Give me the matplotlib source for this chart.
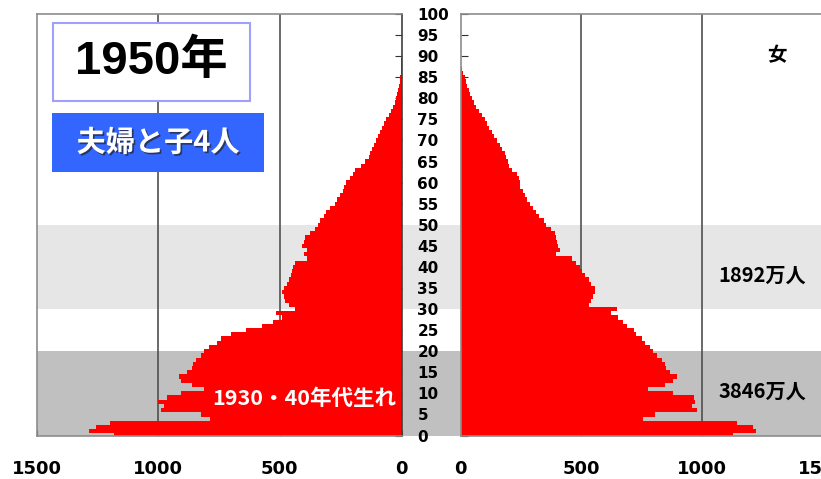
import numpy as np
import matplotlib
matplotlib.use('Agg')
import matplotlib.pyplot as plt
import matplotlib.patheffects as pe
from matplotlib.patches import Rectangle

# population by single year of age, 1950 (thousands)
ages = np.arange(90)
male = [1180, 1285, 1255, 1196, 785, 826, 990, 975, 1000, 965,
        905, 810, 860, 905, 915, 880, 862, 858, 845, 825,
        810, 790, 760, 740, 700, 640, 575, 528, 490, 514,
        438, 462, 477, 484, 490, 484, 470, 463, 456, 450,
        445, 436, 388, 401, 388, 408, 401, 395, 374, 355,
        345, 333, 318, 310, 292, 275, 264, 251, 240, 235,
        228, 212, 200, 190, 168, 150, 135, 128, 120, 112,
        105, 97, 88, 80, 72, 64, 53, 42, 35, 28,
        23, 18, 14, 11, 8, 6, 4, 2, 1, 1]
female = [1130, 1225, 1210, 1145, 756, 805, 978, 960, 971, 965,
          881, 778, 846, 881, 895, 867, 850, 846, 835, 815,
          795, 785, 765, 750, 725, 720, 690, 672, 652, 625,
          648, 530, 540, 550, 556, 555, 540, 532, 515, 505,
          495, 478, 460, 395, 410, 402, 400, 395, 390, 375,
          355, 345, 325, 312, 300, 287, 276, 268, 260, 248,
          245, 242, 232, 212, 201, 195, 190, 183, 172, 162,
          150, 140, 130, 120, 110, 100, 90, 78, 66, 55,
          46, 40, 34, 28, 23, 17, 12, 7, 4, 2]

xticks = [0, 500, 1000, 1500]
age_ticks = np.arange(0, 101, 5)
band_dark = (0, 20)
band_light = (30, 50)

title = '1950年'
subtitle = '夫婦と子4人'
label_f = '女'
label_light = '1892万人'
label_dark = '3846万人'
label_cohort = '1930・40年代生れ'

plt.rcParams['font.family'] = ['DejaVu Sans', 'Noto Sans CJK JP']
cjk = ['Noto Sans CJK JP', 'DejaVu Sans']

W, H = 821, 479
fig = plt.figure(figsize=(W / 100, H / 100), dpi=100)

def fx(px):
    return px / W

def fy(py):
    return 1 - py / H

y_top, y_bot = 14, 435.5
ah = (y_bot - y_top) / H

# shaded age bands across the whole width
bg = fig.add_axes([fx(36.5), fy(y_bot), fx(W - 36.5), ah])
bg.set_xlim(0, 1)
bg.set_ylim(0, 100)
bg.axis('off')
bg.axhspan(*band_dark, color='#c0c0c0', lw=0)
bg.axhspan(*band_light, color='#e6e6e6', lw=0)
bg.set_zorder(0)

ax_l = fig.add_axes([fx(36.5), fy(y_bot), fx(401.5 - 36.5), ah])
ax_r = fig.add_axes([fx(460.5), fy(y_bot), fx(362.3), ah])

for ax in (ax_l, ax_r):
    ax.set_facecolor('none')
    ax.set_zorder(1)
    ax.set_ylim(0, 100)
    for v in (500, 1000):
        ax.axvline(v, color='#505050', lw=1.2, zorder=1)
    for s in ax.spines.values():
        s.set_color('#8c8c8c')
        s.set_linewidth(1.2)
    ax.set_xticks(xticks)
    ax.set_yticks(age_ticks)
    ax.tick_params(axis='x', direction='in', length=4, pad=18, color='#404040',
                   labelsize=13)
    ax.tick_params(axis='y', direction='in', length=5, color='#303030')
    for t in ax.get_xticklabels():
        t.set_fontweight('bold')

ax_l.barh(ages, male, height=1.0, color='#ff0000', lw=0, zorder=2)
ax_l.set_xlim(1500, 0)
ax_l.yaxis.tick_right()
ax_l.tick_params(axis='y', labelright=False)
ax_l.spines['right'].set_color('#404040')

ax_r.barh(ages, female, height=1.0, color='#ff0000', lw=0, zorder=2)
ax_r.set_xlim(0, 1500)
ax_r.tick_params(axis='y', pad=31, labelsize=11)
for t in ax_r.get_yticklabels():
    t.set_fontweight('bold')
    t.set_horizontalalignment('left')

# title boxes
fig.add_artist(Rectangle((fx(53), fy(101)), fx(197), 78 / H, transform=fig.transFigure,
                         facecolor='white', edgecolor='#9f9fff', lw=1.5, zorder=5))
fig.text(fx(151.5), fy(62), title, ha='center', va='center', fontsize=34,
         fontweight='bold', family=['Liberation Sans', 'Noto Sans CJK JP'], zorder=6)

fig.add_artist(Rectangle((fx(52), fy(172)), fx(212), 59 / H, transform=fig.transFigure,
                         facecolor='#3366ff', edgecolor='none', zorder=5))
fig.text(fx(158), fy(142.5), subtitle, ha='center', va='center', fontsize=21,
         fontweight='bold', color='white', family=cjk, zorder=6,
         path_effects=[pe.withSimplePatchShadow(offset=(1.2, -1.2),
                                                shadow_rgbFace='#222222', alpha=0.7)])

fig.text(fx(777), fy(56), label_f, ha='center', va='center', fontsize=14,
         fontweight='bold', family=cjk, zorder=6)
fig.text(fx(762.5), fy(275), label_light, ha='center', va='center', fontsize=14.5,
         fontweight='bold', family=cjk, zorder=6)
fig.text(fx(762.5), fy(391), label_dark, ha='center', va='center', fontsize=14.5,
         fontweight='bold', family=cjk, zorder=6)
fig.text(fx(304), fy(398), label_cohort, ha='center', va='center', fontsize=15.5,
         fontweight='bold', color='white', family=cjk, zorder=6)

fig.savefig('out.png', dpi=100)
